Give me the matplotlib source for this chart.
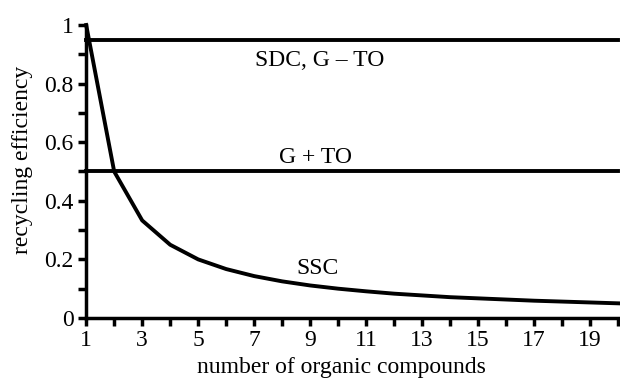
import matplotlib
matplotlib.use('Agg')
import matplotlib.pyplot as plt
from matplotlib.ticker import MultipleLocator

plt.rcParams['font.family'] = 'serif'
plt.rcParams['font.serif'] = ['Liberation Serif', 'DejaVu Serif']
plt.rcParams['axes.unicode_minus'] = False

# number of organic compounds
n_compounds = [1, 2, 3, 4, 5, 6, 7, 8, 9, 10, 11, 12, 13, 14, 15, 16, 17, 18, 19, 20]
# SSC recycling efficiency
ssc_eff = [1.0, 0.5, 0.333, 0.25, 0.2, 0.167, 0.143, 0.125, 0.111, 0.1,
           0.091, 0.083, 0.077, 0.071, 0.067, 0.063, 0.059, 0.056, 0.053, 0.05]
sdc_eff = 0.95   # SDC, G - TO
gto_eff = 0.5    # G + TO

x_ticks = [1, 3, 5, 7, 9, 11, 13, 15, 17, 19]
y_ticks = [0, 0.2, 0.4, 0.6, 0.8, 1]
y_ticklabels = ['0', '0.2', '0.4', '0.6', '0.8', '1']

fig = plt.figure(figsize=(6.2, 3.79), dpi=100)
ax = fig.add_axes([0.139, 0.161, 0.858, 0.773])

lw = 2.8
ax.plot(n_compounds, ssc_eff, color='black', lw=lw, clip_on=False, solid_joinstyle='round')
ax.plot([n_compounds[0], n_compounds[-1]], [sdc_eff, sdc_eff], color='black', lw=lw, clip_on=False)
ax.plot([n_compounds[0], n_compounds[-1]], [gto_eff, gto_eff], color='black', lw=lw, clip_on=False)

fs = 17
ax.text(9.35, 0.88, 'SDC, G \u2013 TO', ha='center', va='center', fontsize=fs)
ax.text(9.2, 0.548, 'G + TO', ha='center', va='center', fontsize=fs)
ax.text(9.25, 0.17, 'SSC', ha='center', va='center', fontsize=fs)

ax.set_xlim(1, 20)
ax.set_ylim(0, 1)
ax.set_xticks(x_ticks)
ax.xaxis.set_minor_locator(MultipleLocator(1))
ax.set_yticks(y_ticks)
ax.set_yticklabels(y_ticklabels)
ax.yaxis.set_minor_locator(MultipleLocator(0.1))

for side in ['top', 'right']:
    ax.spines[side].set_visible(False)
for side in ['left', 'bottom']:
    ax.spines[side].set_linewidth(2.5)

ax.tick_params(which='both', direction='out', width=2.5, labelsize=fs)
ax.tick_params(which='major', length=6, pad=3)
ax.tick_params(which='minor', length=6)

ax.set_xlabel('number of organic compounds', fontsize=fs)
ax.set_ylabel('recycling efficiency', fontsize=fs)
ax.xaxis.set_label_coords(0.479, -0.17, transform=ax.transAxes)
ax.yaxis.set_label_coords(-0.12, 0.54, transform=ax.transAxes)
ax.xaxis.label.set_va('center')
ax.yaxis.label.set_va('center')

fig.savefig('out.png', dpi=100)
